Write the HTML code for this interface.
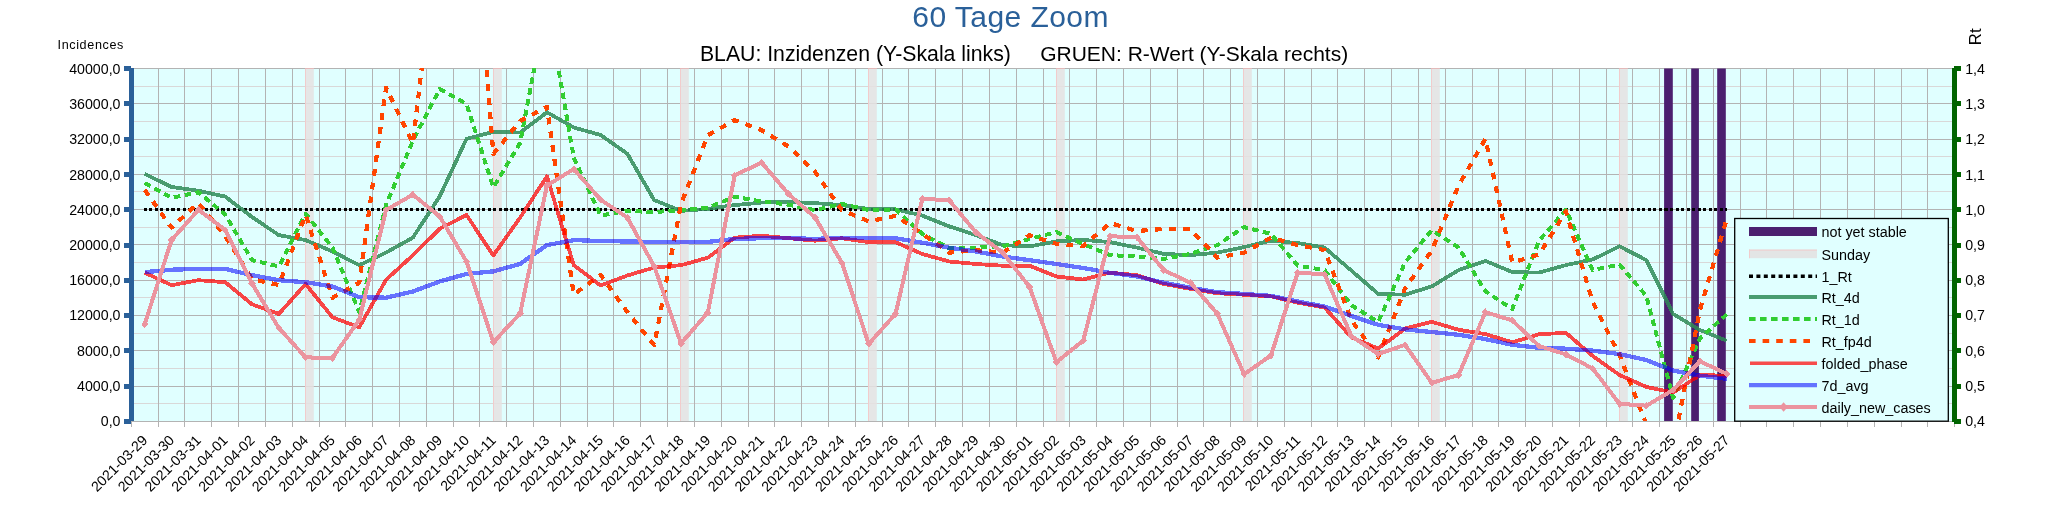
<!DOCTYPE html>
<html lang="de"><head><meta charset="utf-8"><title>60 Tage Zoom</title>
<style>
html,body{margin:0;padding:0;background:#fff;}
body{width:2048px;height:527px;overflow:hidden;}
svg{display:block;will-change:transform;}
text{font-family:"Liberation Sans",sans-serif;fill:#000;}
.ax{font-size:14.2px;}
.lg{font-size:14.35px;}
.xl{font-size:14.2px;}
</style></head><body>
<svg width="2048" height="527" viewBox="0 0 2048 527">
<rect x="0" y="0" width="2048" height="527" fill="#ffffff"/>
<defs><clipPath id="plot"><rect x="131.33" y="68" width="1823.35" height="353.5"/></clipPath></defs>
<rect x="131.33" y="68.5" width="1823.35" height="353" fill="#e0ffff"/>
<g shape-rendering="crispEdges" stroke-width="1" fill="none">
<path d="M131.33 86.5H1954.68M131.33 121.5H1954.68M131.33 156.5H1954.68M131.33 191.5H1954.68M131.33 227.5H1954.68M131.33 262.5H1954.68M131.33 297.5H1954.68M131.33 333.5H1954.68M131.33 368.5H1954.68M131.33 403.5H1954.68" stroke="#d9d8d8"/>
<path d="M131.33 68.5H1954.68M131.33 103.5H1954.68M131.33 139.5H1954.68M131.33 174.5H1954.68M131.33 209.5H1954.68M131.33 244.5H1954.68M131.33 280.5H1954.68M131.33 315.5H1954.68M131.33 350.5H1954.68M131.33 386.5H1954.68M131.33 421.5H1954.68" stroke="#b3b3b3"/>
<path d="M131.5 68.5V427M158.5 68.5V427M184.5 68.5V427M211.5 68.5V427M238.5 68.5V427M265.5 68.5V427M292.5 68.5V427M319.5 68.5V427M345.5 68.5V427M372.5 68.5V427M399.5 68.5V427M426.5 68.5V427M453.5 68.5V427M479.5 68.5V427M506.5 68.5V427M533.5 68.5V427M560.5 68.5V427M587.5 68.5V427M613.5 68.5V427M640.5 68.5V427M667.5 68.5V427M694.5 68.5V427M721.5 68.5V427M748.5 68.5V427M774.5 68.5V427M801.5 68.5V427M828.5 68.5V427M855.5 68.5V427M882.5 68.5V427M908.5 68.5V427M935.5 68.5V427M962.5 68.5V427M989.5 68.5V427M1016.5 68.5V427M1043.5 68.5V427M1069.5 68.5V427M1096.5 68.5V427M1123.5 68.5V427M1150.5 68.5V427M1177.5 68.5V427M1203.5 68.5V427M1230.5 68.5V427M1257.5 68.5V427M1284.5 68.5V427M1311.5 68.5V427M1337.5 68.5V427M1364.5 68.5V427M1391.5 68.5V427M1418.5 68.5V427M1445.5 68.5V427M1472.5 68.5V427M1498.5 68.5V427M1525.5 68.5V427M1552.5 68.5V427M1579.5 68.5V427M1606.5 68.5V427M1632.5 68.5V427M1659.5 68.5V427M1686.5 68.5V427M1713.5 68.5V427M1740.5 68.5V427M1766.5 68.5V427M1793.5 68.5V427M1820.5 68.5V427M1847.5 68.5V427M1874.5 68.5V427M1901.5 68.5V427M1927.5 68.5V427M1954.5 68.5V427" stroke="#b3b3b3"/>
</g>
<g>
<rect x="305" y="68.5" width="8.8" height="353" fill="#e5e2e2" fill-opacity="0.85"/><rect x="305" y="68.5" width="1" height="353" fill="#f1cccc"/><rect x="305" y="68" width="8.8" height="1" fill="#e3b9b9"/>
<rect x="493" y="68.5" width="8.8" height="353" fill="#e5e2e2" fill-opacity="0.85"/><rect x="493" y="68.5" width="1" height="353" fill="#f1cccc"/><rect x="493" y="68" width="8.8" height="1" fill="#e3b9b9"/>
<rect x="680" y="68.5" width="8.8" height="353" fill="#e5e2e2" fill-opacity="0.85"/><rect x="680" y="68.5" width="1" height="353" fill="#f1cccc"/><rect x="680" y="68" width="8.8" height="1" fill="#e3b9b9"/>
<rect x="868" y="68.5" width="8.8" height="353" fill="#e5e2e2" fill-opacity="0.85"/><rect x="868" y="68.5" width="1" height="353" fill="#f1cccc"/><rect x="868" y="68" width="8.8" height="1" fill="#e3b9b9"/>
<rect x="1056" y="68.5" width="8.8" height="353" fill="#e5e2e2" fill-opacity="0.85"/><rect x="1056" y="68.5" width="1" height="353" fill="#f1cccc"/><rect x="1056" y="68" width="8.8" height="1" fill="#e3b9b9"/>
<rect x="1243" y="68.5" width="8.8" height="353" fill="#e5e2e2" fill-opacity="0.85"/><rect x="1243" y="68.5" width="1" height="353" fill="#f1cccc"/><rect x="1243" y="68" width="8.8" height="1" fill="#e3b9b9"/>
<rect x="1431" y="68.5" width="8.8" height="353" fill="#e5e2e2" fill-opacity="0.85"/><rect x="1431" y="68.5" width="1" height="353" fill="#f1cccc"/><rect x="1431" y="68" width="8.8" height="1" fill="#e3b9b9"/>
<rect x="1619" y="68.5" width="8.8" height="353" fill="#e5e2e2" fill-opacity="0.85"/><rect x="1619" y="68.5" width="1" height="353" fill="#f1cccc"/><rect x="1619" y="68" width="8.8" height="1" fill="#e3b9b9"/>
<rect x="1664.1" y="68.5" width="8.7" height="353" fill="#4b1f6f"/>
<rect x="1691.2" y="68.5" width="7.7" height="353" fill="#4b1f6f"/>
<rect x="1717.2" y="68.5" width="8.6" height="353" fill="#4b1f6f"/>
</g>
<g clip-path="url(#plot)" fill="none" stroke-linejoin="round" shape-rendering="crispEdges">
<path d="M143.74 209.5H1726.56" stroke="#000" stroke-width="3" stroke-dasharray="3.1 2.45"/>
<polyline points="144.74,174 171.55,186.9 198.37,190.7 225.18,196.6 251.99,217 278.81,235.1 305.62,240.1 332.44,251.4 359.25,265.2 386.06,252.6 412.88,237.6 439.69,196.5 466.5,138.8 493.32,131.9 520.13,132.5 546.95,112.3 573.76,127.5 600.58,135 627.39,153.8 654.2,200.1 681.02,210.9 707.83,208.9 734.65,205.1 761.46,202.6 788.27,201.9 815.09,203.1 841.9,205.1 868.72,208.9 895.53,209.4 922.34,215.6 949.16,226.4 975.97,235.2 1002.79,245.2 1029.6,246.4 1056.41,241.4 1083.23,239.9 1110.04,242.1 1136.86,247.6 1163.67,253.9 1190.48,255.1 1217.3,252.6 1244.11,247.1 1270.92,240.6 1297.74,243.1 1324.55,247.6 1351.37,270.6 1378.18,293.9 1404.99,294.7 1431.81,286.4 1458.62,270.1 1485.44,260.9 1512.25,272.1 1539.06,272.6 1565.88,265.1 1592.69,259.5 1619.51,246.3 1646.32,260.1 1673.13,314 1699.95,330 1726.76,340.7" stroke="#2e8b57" stroke-opacity="0.85" stroke-width="3.8"/>
<polyline points="144.74,183 171.55,197.8 198.37,192.3 225.18,214.5 251.99,260.2 278.81,266.4 305.62,213.8 332.44,247.6 359.25,312 386.06,205 412.88,140.7 439.69,89 466.5,104 493.32,187.5 520.13,143 546.95,1.7 573.76,157.6 600.58,215.5 627.39,210.9 654.2,212.1 681.02,210.1 707.83,207.6 734.65,196.8 761.46,201.4 788.27,204.6 815.09,210.1 841.9,203.9 868.72,210.1 895.53,209.4 922.34,233.9 949.16,248.2 975.97,247.7 1002.79,246.4 1029.6,238.9 1056.41,232.2 1083.23,244.2 1110.04,255.1 1136.86,256.4 1163.67,258.9 1190.48,253.9 1217.3,245.1 1244.11,227.1 1270.92,233.8 1297.74,265.6 1324.55,270.1 1351.37,305.2 1378.18,322 1404.99,262.6 1431.81,230.1 1458.62,247.6 1485.44,291.4 1512.25,309 1539.06,240.7 1565.88,209.7 1592.69,270 1619.51,264.6 1646.32,296 1673.13,398 1699.95,338.2 1726.76,314.5" stroke="#32cd32" stroke-width="4" stroke-dasharray="6.6 4.4"/>
<polyline points="144.74,190 171.55,227.6 198.37,203 225.18,236 251.99,279 278.81,285 305.62,215 332.44,297.7 359.25,282.7 386.06,87.7 412.88,143.5 439.69,-85 466.5,-186 493.32,154 520.13,121 546.95,106.8 573.76,294.5 600.58,275 627.39,312 654.2,345.2 681.02,204 707.83,135.2 734.65,120.1 761.46,130.1 788.27,146.4 815.09,172 841.9,210.1 868.72,221.4 895.53,215.9 922.34,233.9 949.16,252.7 975.97,250.2 1002.79,252.7 1029.6,235.2 1056.41,243.9 1083.23,246 1110.04,223 1136.86,231 1163.67,229 1190.48,229.3 1217.3,257.6 1244.11,252.6 1270.92,237.6 1297.74,245.1 1324.55,250.1 1351.37,320.2 1378.18,357.4 1404.99,288.5 1431.81,250.5 1458.62,185.5 1485.44,138.8 1512.25,262.5 1539.06,254.5 1565.88,211.5 1592.69,302 1619.51,355.1 1646.32,424.5 1673.13,447 1699.95,309.8 1726.76,218.8" stroke="#ff4500" stroke-width="4.2" stroke-dasharray="6.8 7.2"/>
<polyline points="144.74,272.7 171.55,285.2 198.37,280.2 225.18,282.2 251.99,304.3 278.81,314 305.62,284 332.44,317.3 359.25,327.3 386.06,279.8 412.88,255.2 439.69,228.8 466.5,215 493.32,255.4 520.13,217.6 546.95,176.4 573.76,265.2 600.58,285.5 627.39,275.5 654.2,267.5 681.02,265.2 707.83,257.7 734.65,237.7 761.46,235.7 788.27,238.2 815.09,240.7 841.9,238.2 868.72,242.2 895.53,242.2 922.34,254 949.16,261.5 975.97,264 1002.79,265.7 1029.6,265.7 1056.41,276.5 1083.23,279.5 1110.04,272.6 1136.86,275.2 1163.67,283.9 1190.48,288.9 1217.3,293.2 1244.11,294.7 1270.92,296.4 1297.74,302.7 1324.55,307.5 1351.37,337.3 1378.18,348.6 1404.99,328.6 1431.81,321.8 1458.62,329.8 1485.44,334.1 1512.25,342.3 1539.06,334.3 1565.88,332.8 1592.69,356 1619.51,375 1646.32,386.9 1673.13,392.6 1699.95,375 1726.76,375.7" stroke="#ff0000" stroke-opacity="0.72" stroke-width="3.8"/>
<polyline points="144.74,272.2 171.55,269.7 198.37,268.9 225.18,268.9 251.99,275.2 278.81,280.2 305.62,282.2 332.44,286.5 359.25,297.2 386.06,297.7 412.88,291.5 439.69,281.5 466.5,273.9 493.32,271.4 520.13,263.9 546.95,245.1 573.76,240.1 600.58,241 627.39,241.5 654.2,241.9 681.02,241.9 707.83,241.9 734.65,238.9 761.46,238.2 788.27,238.2 815.09,238.9 841.9,237.7 868.72,238.2 895.53,238.2 922.34,242.7 949.16,247.7 975.97,251.5 1002.79,256.5 1029.6,260.2 1056.41,264 1083.23,268 1110.04,272.8 1136.86,276.4 1163.67,282.7 1190.48,287.7 1217.3,292.2 1244.11,293.9 1270.92,295.9 1297.74,301.5 1324.55,306.5 1351.37,315.9 1378.18,324.8 1404.99,329.4 1431.81,332 1458.62,334.8 1485.44,339.1 1512.25,344.8 1539.06,347.8 1565.88,348.7 1592.69,350.6 1619.51,354.1 1646.32,360 1673.13,370.6 1699.95,375.7 1726.76,378.8" stroke="#0000ff" stroke-opacity="0.55" stroke-width="4.3"/>
<g>
<polyline points="144.74,324.1 171.55,240 198.37,209.8 225.18,230 251.99,283.5 278.81,328 305.62,357.4 332.44,357.9 359.25,319.8 386.06,210 412.88,194.6 439.69,216.5 466.5,261.5 493.32,342.3 520.13,313.5 546.95,185.5 573.76,169.1 600.58,199.6 627.39,217.7 654.2,266.2 681.02,343.4 707.83,312.6 734.65,175.5 761.46,162.5 788.27,193.8 815.09,217.6 841.9,262.7 868.72,343.9 895.53,313.8 922.34,198.8 949.16,200.3 975.97,232.5 1002.79,252.7 1029.6,287 1056.41,362.2 1083.23,340.6 1110.04,236.3 1136.86,237.1 1163.67,270.1 1190.48,282.7 1217.3,313.7 1244.11,374.2 1270.92,355.4 1297.74,272.6 1324.55,274.4 1351.37,336.1 1378.18,354.1 1404.99,344.8 1431.81,382.9 1458.62,374.9 1485.44,312.2 1512.25,320.4 1539.06,346 1565.88,354.4 1592.69,368.5 1619.51,403.8 1646.32,405.7 1673.13,390 1699.95,361.3 1726.76,373.8" stroke="#eb949f" stroke-width="4"/>
<path d="M144.74 320.3L148.34 324.1L144.74 327.9L141.14 324.1ZM171.55 236.2L175.15 240L171.55 243.8L167.95 240ZM198.37 206L201.97 209.8L198.37 213.6L194.77 209.8ZM225.18 226.2L228.78 230L225.18 233.8L221.58 230ZM251.99 279.7L255.59 283.5L251.99 287.3L248.39 283.5ZM278.81 324.2L282.41 328L278.81 331.8L275.21 328ZM305.62 353.6L309.22 357.4L305.62 361.2L302.02 357.4ZM332.44 354.1L336.04 357.9L332.44 361.7L328.83 357.9ZM359.25 316L362.85 319.8L359.25 323.6L355.65 319.8ZM386.06 206.2L389.66 210L386.06 213.8L382.46 210ZM412.88 190.8L416.48 194.6L412.88 198.4L409.28 194.6ZM439.69 212.7L443.29 216.5L439.69 220.3L436.09 216.5ZM466.5 257.7L470.11 261.5L466.5 265.3L462.9 261.5ZM493.32 338.5L496.92 342.3L493.32 346.1L489.72 342.3ZM520.13 309.7L523.73 313.5L520.13 317.3L516.53 313.5ZM546.95 181.7L550.55 185.5L546.95 189.3L543.35 185.5ZM573.76 165.3L577.36 169.1L573.76 172.9L570.16 169.1ZM600.58 195.8L604.18 199.6L600.58 203.4L596.98 199.6ZM627.39 213.9L630.99 217.7L627.39 221.5L623.79 217.7ZM654.2 262.4L657.8 266.2L654.2 270L650.6 266.2ZM681.02 339.6L684.62 343.4L681.02 347.2L677.42 343.4ZM707.83 308.8L711.43 312.6L707.83 316.4L704.23 312.6ZM734.65 171.7L738.25 175.5L734.65 179.3L731.05 175.5ZM761.46 158.7L765.06 162.5L761.46 166.3L757.86 162.5ZM788.27 190L791.87 193.8L788.27 197.6L784.67 193.8ZM815.09 213.8L818.69 217.6L815.09 221.4L811.49 217.6ZM841.9 258.9L845.5 262.7L841.9 266.5L838.3 262.7ZM868.72 340.1L872.32 343.9L868.72 347.7L865.12 343.9ZM895.53 310L899.13 313.8L895.53 317.6L891.93 313.8ZM922.34 195L925.94 198.8L922.34 202.6L918.74 198.8ZM949.16 196.5L952.76 200.3L949.16 204.1L945.56 200.3ZM975.97 228.7L979.57 232.5L975.97 236.3L972.37 232.5ZM1002.79 248.9L1006.39 252.7L1002.79 256.5L999.19 252.7ZM1029.6 283.2L1033.2 287L1029.6 290.8L1026 287ZM1056.41 358.4L1060.01 362.2L1056.41 366L1052.81 362.2ZM1083.23 336.8L1086.83 340.6L1083.23 344.4L1079.63 340.6ZM1110.04 232.5L1113.64 236.3L1110.04 240.1L1106.44 236.3ZM1136.86 233.3L1140.45 237.1L1136.86 240.9L1133.26 237.1ZM1163.67 266.3L1167.27 270.1L1163.67 273.9L1160.07 270.1ZM1190.48 278.9L1194.08 282.7L1190.48 286.5L1186.88 282.7ZM1217.3 309.9L1220.9 313.7L1217.3 317.5L1213.7 313.7ZM1244.11 370.4L1247.71 374.2L1244.11 378L1240.51 374.2ZM1270.92 351.6L1274.52 355.4L1270.92 359.2L1267.33 355.4ZM1297.74 268.8L1301.34 272.6L1297.74 276.4L1294.14 272.6ZM1324.55 270.6L1328.15 274.4L1324.55 278.2L1320.95 274.4ZM1351.37 332.3L1354.97 336.1L1351.37 339.9L1347.77 336.1ZM1378.18 350.3L1381.78 354.1L1378.18 357.9L1374.58 354.1ZM1404.99 341L1408.59 344.8L1404.99 348.6L1401.39 344.8ZM1431.81 379.1L1435.41 382.9L1431.81 386.7L1428.21 382.9ZM1458.62 371.1L1462.22 374.9L1458.62 378.7L1455.02 374.9ZM1485.44 308.4L1489.04 312.2L1485.44 316L1481.84 312.2ZM1512.25 316.6L1515.85 320.4L1512.25 324.2L1508.65 320.4ZM1539.06 342.2L1542.66 346L1539.06 349.8L1535.46 346ZM1565.88 350.6L1569.48 354.4L1565.88 358.2L1562.28 354.4ZM1592.69 364.7L1596.29 368.5L1592.69 372.3L1589.09 368.5ZM1619.51 400L1623.11 403.8L1619.51 407.6L1615.91 403.8ZM1646.32 401.9L1649.92 405.7L1646.32 409.5L1642.72 405.7ZM1673.13 386.2L1676.73 390L1673.13 393.8L1669.54 390ZM1699.95 357.5L1703.55 361.3L1699.95 365.1L1696.35 361.3ZM1726.76 370L1730.36 373.8L1726.76 377.6L1723.16 373.8Z" fill="#eb949f" stroke="none"/>
</g>
</g>
<g shape-rendering="crispEdges">
<rect x="131.33" y="421" width="1823.35" height="1" fill="#b3b3b3"/>
<rect x="129.2" y="68" width="4.6" height="353" fill="#2a6099"/>
<rect x="124" y="66" width="6.5" height="5" fill="#2a6099"/>
<rect x="124" y="101.3" width="6.5" height="5" fill="#2a6099"/>
<rect x="124" y="136.6" width="6.5" height="5" fill="#2a6099"/>
<rect x="124" y="171.9" width="6.5" height="5" fill="#2a6099"/>
<rect x="124" y="207.2" width="6.5" height="5" fill="#2a6099"/>
<rect x="124" y="242.5" width="6.5" height="5" fill="#2a6099"/>
<rect x="124" y="277.8" width="6.5" height="5" fill="#2a6099"/>
<rect x="124" y="313.1" width="6.5" height="5" fill="#2a6099"/>
<rect x="124" y="348.4" width="6.5" height="5" fill="#2a6099"/>
<rect x="124" y="383.7" width="6.5" height="5" fill="#2a6099"/>
<rect x="124" y="419" width="6.5" height="5" fill="#2a6099"/>
<rect x="1952.38" y="68" width="4.6" height="353.5" fill="#006400"/>
<rect x="1954.18" y="66" width="7" height="5" fill="#006400"/>
<rect x="1954.18" y="101.3" width="7" height="5" fill="#006400"/>
<rect x="1954.18" y="136.6" width="7" height="5" fill="#006400"/>
<rect x="1954.18" y="171.9" width="7" height="5" fill="#006400"/>
<rect x="1954.18" y="207.2" width="7" height="5" fill="#006400"/>
<rect x="1954.18" y="242.5" width="7" height="5" fill="#006400"/>
<rect x="1954.18" y="277.8" width="7" height="5" fill="#006400"/>
<rect x="1954.18" y="313.1" width="7" height="5" fill="#006400"/>
<rect x="1954.18" y="348.4" width="7" height="5" fill="#006400"/>
<rect x="1954.18" y="383.7" width="7" height="5" fill="#006400"/>
<rect x="1954.18" y="419" width="7" height="5" fill="#006400"/>
</g>
<text class="ax" x="120.5" y="73.85" text-anchor="end">40000,0</text>
<text class="ax" x="1965.18" y="73.85">1,4</text>
<text class="ax" x="120.5" y="109.07" text-anchor="end">36000,0</text>
<text class="ax" x="1965.18" y="109.07">1,3</text>
<text class="ax" x="120.5" y="144.3" text-anchor="end">32000,0</text>
<text class="ax" x="1965.18" y="144.3">1,2</text>
<text class="ax" x="120.5" y="179.53" text-anchor="end">28000,0</text>
<text class="ax" x="1965.18" y="179.53">1,1</text>
<text class="ax" x="120.5" y="214.75" text-anchor="end">24000,0</text>
<text class="ax" x="1965.18" y="214.75">1,0</text>
<text class="ax" x="120.5" y="249.97" text-anchor="end">20000,0</text>
<text class="ax" x="1965.18" y="249.97">0,9</text>
<text class="ax" x="120.5" y="285.2" text-anchor="end">16000,0</text>
<text class="ax" x="1965.18" y="285.2">0,8</text>
<text class="ax" x="120.5" y="320.43" text-anchor="end">12000,0</text>
<text class="ax" x="1965.18" y="320.43">0,7</text>
<text class="ax" x="120.5" y="355.65" text-anchor="end">8000,0</text>
<text class="ax" x="1965.18" y="355.65">0,6</text>
<text class="ax" x="120.5" y="390.88" text-anchor="end">4000,0</text>
<text class="ax" x="1965.18" y="390.88">0,5</text>
<text class="ax" x="120.5" y="426.1" text-anchor="end">0,0</text>
<text class="ax" x="1965.18" y="426.1">0,4</text>
<text class="xl" transform="translate(148.24 441.2) rotate(-45)" text-anchor="end">2021-03-29</text>
<text class="xl" transform="translate(175.05 441.2) rotate(-45)" text-anchor="end">2021-03-30</text>
<text class="xl" transform="translate(201.87 441.2) rotate(-45)" text-anchor="end">2021-03-31</text>
<text class="xl" transform="translate(228.68 441.2) rotate(-45)" text-anchor="end">2021-04-01</text>
<text class="xl" transform="translate(255.49 441.2) rotate(-45)" text-anchor="end">2021-04-02</text>
<text class="xl" transform="translate(282.31 441.2) rotate(-45)" text-anchor="end">2021-04-03</text>
<text class="xl" transform="translate(309.12 441.2) rotate(-45)" text-anchor="end">2021-04-04</text>
<text class="xl" transform="translate(335.94 441.2) rotate(-45)" text-anchor="end">2021-04-05</text>
<text class="xl" transform="translate(362.75 441.2) rotate(-45)" text-anchor="end">2021-04-06</text>
<text class="xl" transform="translate(389.56 441.2) rotate(-45)" text-anchor="end">2021-04-07</text>
<text class="xl" transform="translate(416.38 441.2) rotate(-45)" text-anchor="end">2021-04-08</text>
<text class="xl" transform="translate(443.19 441.2) rotate(-45)" text-anchor="end">2021-04-09</text>
<text class="xl" transform="translate(470 441.2) rotate(-45)" text-anchor="end">2021-04-10</text>
<text class="xl" transform="translate(496.82 441.2) rotate(-45)" text-anchor="end">2021-04-11</text>
<text class="xl" transform="translate(523.63 441.2) rotate(-45)" text-anchor="end">2021-04-12</text>
<text class="xl" transform="translate(550.45 441.2) rotate(-45)" text-anchor="end">2021-04-13</text>
<text class="xl" transform="translate(577.26 441.2) rotate(-45)" text-anchor="end">2021-04-14</text>
<text class="xl" transform="translate(604.08 441.2) rotate(-45)" text-anchor="end">2021-04-15</text>
<text class="xl" transform="translate(630.89 441.2) rotate(-45)" text-anchor="end">2021-04-16</text>
<text class="xl" transform="translate(657.7 441.2) rotate(-45)" text-anchor="end">2021-04-17</text>
<text class="xl" transform="translate(684.52 441.2) rotate(-45)" text-anchor="end">2021-04-18</text>
<text class="xl" transform="translate(711.33 441.2) rotate(-45)" text-anchor="end">2021-04-19</text>
<text class="xl" transform="translate(738.15 441.2) rotate(-45)" text-anchor="end">2021-04-20</text>
<text class="xl" transform="translate(764.96 441.2) rotate(-45)" text-anchor="end">2021-04-21</text>
<text class="xl" transform="translate(791.77 441.2) rotate(-45)" text-anchor="end">2021-04-22</text>
<text class="xl" transform="translate(818.59 441.2) rotate(-45)" text-anchor="end">2021-04-23</text>
<text class="xl" transform="translate(845.4 441.2) rotate(-45)" text-anchor="end">2021-04-24</text>
<text class="xl" transform="translate(872.22 441.2) rotate(-45)" text-anchor="end">2021-04-25</text>
<text class="xl" transform="translate(899.03 441.2) rotate(-45)" text-anchor="end">2021-04-26</text>
<text class="xl" transform="translate(925.84 441.2) rotate(-45)" text-anchor="end">2021-04-27</text>
<text class="xl" transform="translate(952.66 441.2) rotate(-45)" text-anchor="end">2021-04-28</text>
<text class="xl" transform="translate(979.47 441.2) rotate(-45)" text-anchor="end">2021-04-29</text>
<text class="xl" transform="translate(1006.29 441.2) rotate(-45)" text-anchor="end">2021-04-30</text>
<text class="xl" transform="translate(1033.1 441.2) rotate(-45)" text-anchor="end">2021-05-01</text>
<text class="xl" transform="translate(1059.91 441.2) rotate(-45)" text-anchor="end">2021-05-02</text>
<text class="xl" transform="translate(1086.73 441.2) rotate(-45)" text-anchor="end">2021-05-03</text>
<text class="xl" transform="translate(1113.54 441.2) rotate(-45)" text-anchor="end">2021-05-04</text>
<text class="xl" transform="translate(1140.36 441.2) rotate(-45)" text-anchor="end">2021-05-05</text>
<text class="xl" transform="translate(1167.17 441.2) rotate(-45)" text-anchor="end">2021-05-06</text>
<text class="xl" transform="translate(1193.98 441.2) rotate(-45)" text-anchor="end">2021-05-07</text>
<text class="xl" transform="translate(1220.8 441.2) rotate(-45)" text-anchor="end">2021-05-08</text>
<text class="xl" transform="translate(1247.61 441.2) rotate(-45)" text-anchor="end">2021-05-09</text>
<text class="xl" transform="translate(1274.42 441.2) rotate(-45)" text-anchor="end">2021-05-10</text>
<text class="xl" transform="translate(1301.24 441.2) rotate(-45)" text-anchor="end">2021-05-11</text>
<text class="xl" transform="translate(1328.05 441.2) rotate(-45)" text-anchor="end">2021-05-12</text>
<text class="xl" transform="translate(1354.87 441.2) rotate(-45)" text-anchor="end">2021-05-13</text>
<text class="xl" transform="translate(1381.68 441.2) rotate(-45)" text-anchor="end">2021-05-14</text>
<text class="xl" transform="translate(1408.49 441.2) rotate(-45)" text-anchor="end">2021-05-15</text>
<text class="xl" transform="translate(1435.31 441.2) rotate(-45)" text-anchor="end">2021-05-16</text>
<text class="xl" transform="translate(1462.12 441.2) rotate(-45)" text-anchor="end">2021-05-17</text>
<text class="xl" transform="translate(1488.94 441.2) rotate(-45)" text-anchor="end">2021-05-18</text>
<text class="xl" transform="translate(1515.75 441.2) rotate(-45)" text-anchor="end">2021-05-19</text>
<text class="xl" transform="translate(1542.56 441.2) rotate(-45)" text-anchor="end">2021-05-20</text>
<text class="xl" transform="translate(1569.38 441.2) rotate(-45)" text-anchor="end">2021-05-21</text>
<text class="xl" transform="translate(1596.19 441.2) rotate(-45)" text-anchor="end">2021-05-22</text>
<text class="xl" transform="translate(1623.01 441.2) rotate(-45)" text-anchor="end">2021-05-23</text>
<text class="xl" transform="translate(1649.82 441.2) rotate(-45)" text-anchor="end">2021-05-24</text>
<text class="xl" transform="translate(1676.63 441.2) rotate(-45)" text-anchor="end">2021-05-25</text>
<text class="xl" transform="translate(1703.45 441.2) rotate(-45)" text-anchor="end">2021-05-26</text>
<text class="xl" transform="translate(1730.26 441.2) rotate(-45)" text-anchor="end">2021-05-27</text>
<text x="912.3" y="26.8" style="font-size:30px;fill:#2a6099;letter-spacing:0.45px">60 Tage Zoom</text>
<text x="699.9" y="61.2" style="font-size:21.25px">BLAU: Inzidenzen (Y-Skala links)</text>
<text x="1348.2" y="61.2" text-anchor="end" style="font-size:21.0px">GRUEN: R-Wert (Y-Skala rechts)</text>
<text x="57.5" y="49" style="font-size:12.6px;letter-spacing:0.63px">Incidences</text>
<text transform="translate(1981 45.2) rotate(-90)" style="font-size:16.8px">Rt</text>
<rect x="1734.7" y="218.5" width="213.6" height="202.7" fill="#e0ffff" stroke="#000" stroke-width="1.3"/>
<rect x="1749" y="227" width="68" height="9" fill="#4b1f6f"/>
<rect x="1749" y="249.6" width="68" height="8.6" fill="#e3e5e5"/><rect x="1749" y="249.6" width="1" height="8.6" fill="#f1cccc"/><rect x="1749" y="249.6" width="68" height="1" fill="#f1cccc"/>
<g fill="none">
<path d="M1749 276.25H1817" stroke="#000" stroke-width="3.4" stroke-dasharray="4 3.4"/>
<path d="M1749 297H1817" stroke="#2e8b57" stroke-opacity="0.85" stroke-width="4"/>
<path d="M1749 319H1817" stroke="#32cd32" stroke-width="4.2" stroke-dasharray="6.6 4.4"/>
<path d="M1749 340.9H1817" stroke="#ff4500" stroke-width="4" stroke-dasharray="6.6 7"/>
<path d="M1750 363.3H1817" stroke="#ff0000" stroke-opacity="0.7" stroke-width="3.5"/>
<path d="M1749 385.1H1817" stroke="#0000ff" stroke-opacity="0.55" stroke-width="4.2"/>
<g><path d="M1749 407H1817" stroke="#eb949f" stroke-width="4.2"/>
<path d="M1783.6 402.3L1787.7 407L1783.6 411.7L1779.5 407Z" fill="#eb949f"/></g>
</g>
<text class="lg" x="1821.5" y="237.1">not yet stable</text>
<text class="lg" x="1821.5" y="259.6">Sunday</text>
<text class="lg" x="1821.5" y="281.85">1_Rt</text>
<text class="lg" x="1821.5" y="302.6">Rt_4d</text>
<text class="lg" x="1821.5" y="324.6">Rt_1d</text>
<text class="lg" x="1821.5" y="346.5">Rt_fp4d</text>
<text class="lg" x="1821.5" y="368.9">folded_phase</text>
<text class="lg" x="1821.5" y="390.7">7d_avg</text>
<text class="lg" x="1821.5" y="412.6">daily_new_cases</text>
</svg></body></html>
